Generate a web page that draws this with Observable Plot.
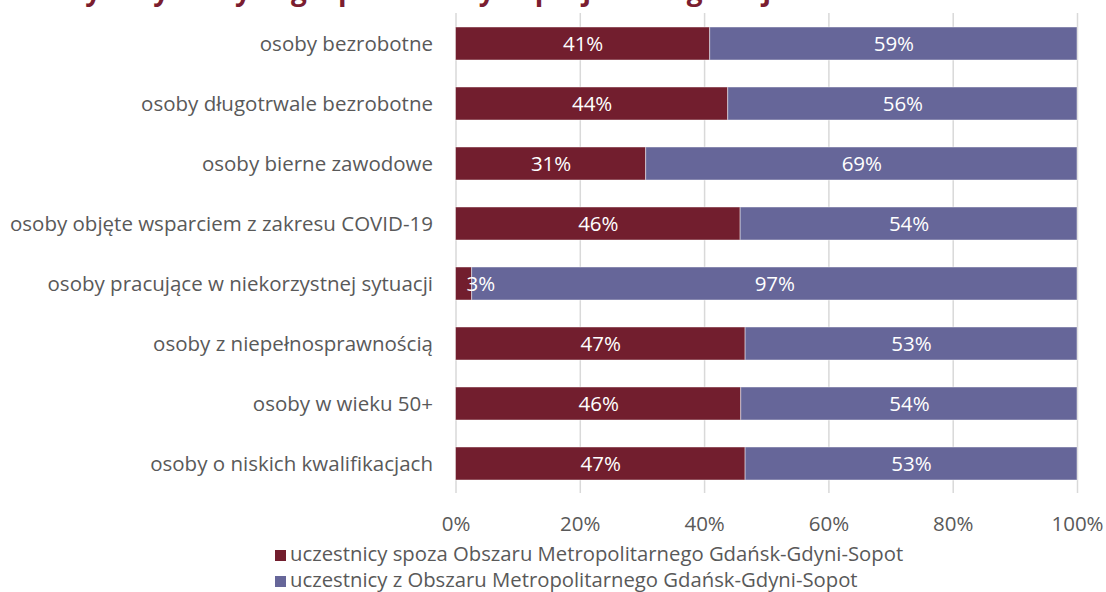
<!DOCTYPE html>
<html><head><meta charset="utf-8">
<script src="https://cdn.jsdelivr.net/npm/d3@7"></script>
<script src="https://cdn.jsdelivr.net/npm/@observablehq/plot@0.6"></script>
<style>
body{margin:0;background:#fff;font-family:"Open Sans",sans-serif;}
#wrap{position:relative;width:1106px;height:592px;overflow:hidden}
#title{position:absolute;left:0;top:0;width:1106px;height:9px;overflow:hidden}
#title span{position:absolute;left:14px;top:-25px;font-size:28px;line-height:28px;font-weight:700;color:#7b1d30;white-space:nowrap}
#legend{position:absolute;left:275px;top:539.5px;font-size:20.3px;color:#595959;line-height:26px;white-space:nowrap}
#legend .sw{display:inline-block;width:11px;height:11px;margin-right:4px;vertical-align:0px}
</style></head><body>
<div id="wrap"><div id="chart"></div><div id="title"><span>Osoby z wybranych grup docelowych projektu wg miejsca zamieszkania</span></div><div id="legend"></div></div>
<script>
const categories = [
  "osoby bezrobotne",
  "osoby długotrwale bezrobotne",
  "osoby bierne zawodowe",
  "osoby objęte wsparciem z zakresu COVID-19",
  "osoby pracujące w niekorzystnej sytuacji",
  "osoby z niepełnosprawnością",
  "osoby w wieku 50+",
  "osoby o niskich kwalifikacjach"
];
const seriesNames = [
  "uczestnicy spoza Obszaru Metropolitarnego Gdańsk-Gdyni-Sopot",
  "uczestnicy z Obszaru Metropolitarnego Gdańsk-Gdyni-Sopot"
];
const outsideShare = [40.9, 43.8, 30.6, 45.8, 2.6, 46.6, 45.9, 46.6];
const insideShare  = [59.1, 56.2, 69.4, 54.2, 97.4, 53.4, 54.1, 53.4];
const xTicks = [0, 20, 40, 60, 80, 100];
const colors = ["#721e2e", "#666699"];

const rows = [];
categories.forEach((c, i) => {
  rows.push({cat: c, series: seriesNames[0], x1: 0, x2: outsideShare[i], value: outsideShare[i]});
  rows.push({cat: c, series: seriesNames[1], x1: outsideShare[i], x2: outsideShare[i] + insideShare[i], value: insideShare[i]});
});

const chart = Plot.plot({
  width: 1106, height: 540,
  marginLeft: 455.5, marginRight: 29, marginTop: 13, marginBottom: 47,
  x: {domain: [0, 100], label: null},
  y: {domain: categories, paddingInner: 0.45, paddingOuter: 0.225, label: null},
  color: {domain: seriesNames, range: colors},
  style: {fontFamily: "Open Sans", fontSize: "20.5px", color: "#595959", background: "transparent"},
  marks: [
    Plot.ruleX(xTicks, {stroke: "#d9d9d9", strokeWidth: 1.5}),
    Plot.barX(rows, {x1: "x1", x2: "x2", y: "cat", fill: "series", stroke: "#ffffff", strokeOpacity: 0.45, strokeWidth: 1}),
    Plot.text(rows, {x: d => Math.max((d.x1 + d.x2) / 2, 4), y: "cat", text: d => Math.round(d.value) + "%", fill: "white", fontSize: 20.5}),
    Plot.axisY({tickSize: 0, tickPadding: 23, fontSize: 20.5, fill: "#595959", label: null}),
    Plot.axisX({ticks: xTicks, tickFormat: d => d + "%", tickSize: 0, tickPadding: 22.5, fontSize: 20.5, fill: "#595959", label: null})
  ]
});
document.getElementById("chart").appendChild(chart);

const legend = document.getElementById("legend");
seriesNames.forEach((n, i) => {
  const row = document.createElement("div");
  const sw = document.createElement("span");
  sw.className = "sw";
  sw.style.background = colors[i];
  row.appendChild(sw);
  row.appendChild(document.createTextNode(n));
  legend.appendChild(row);
});
</script>
</body></html>
